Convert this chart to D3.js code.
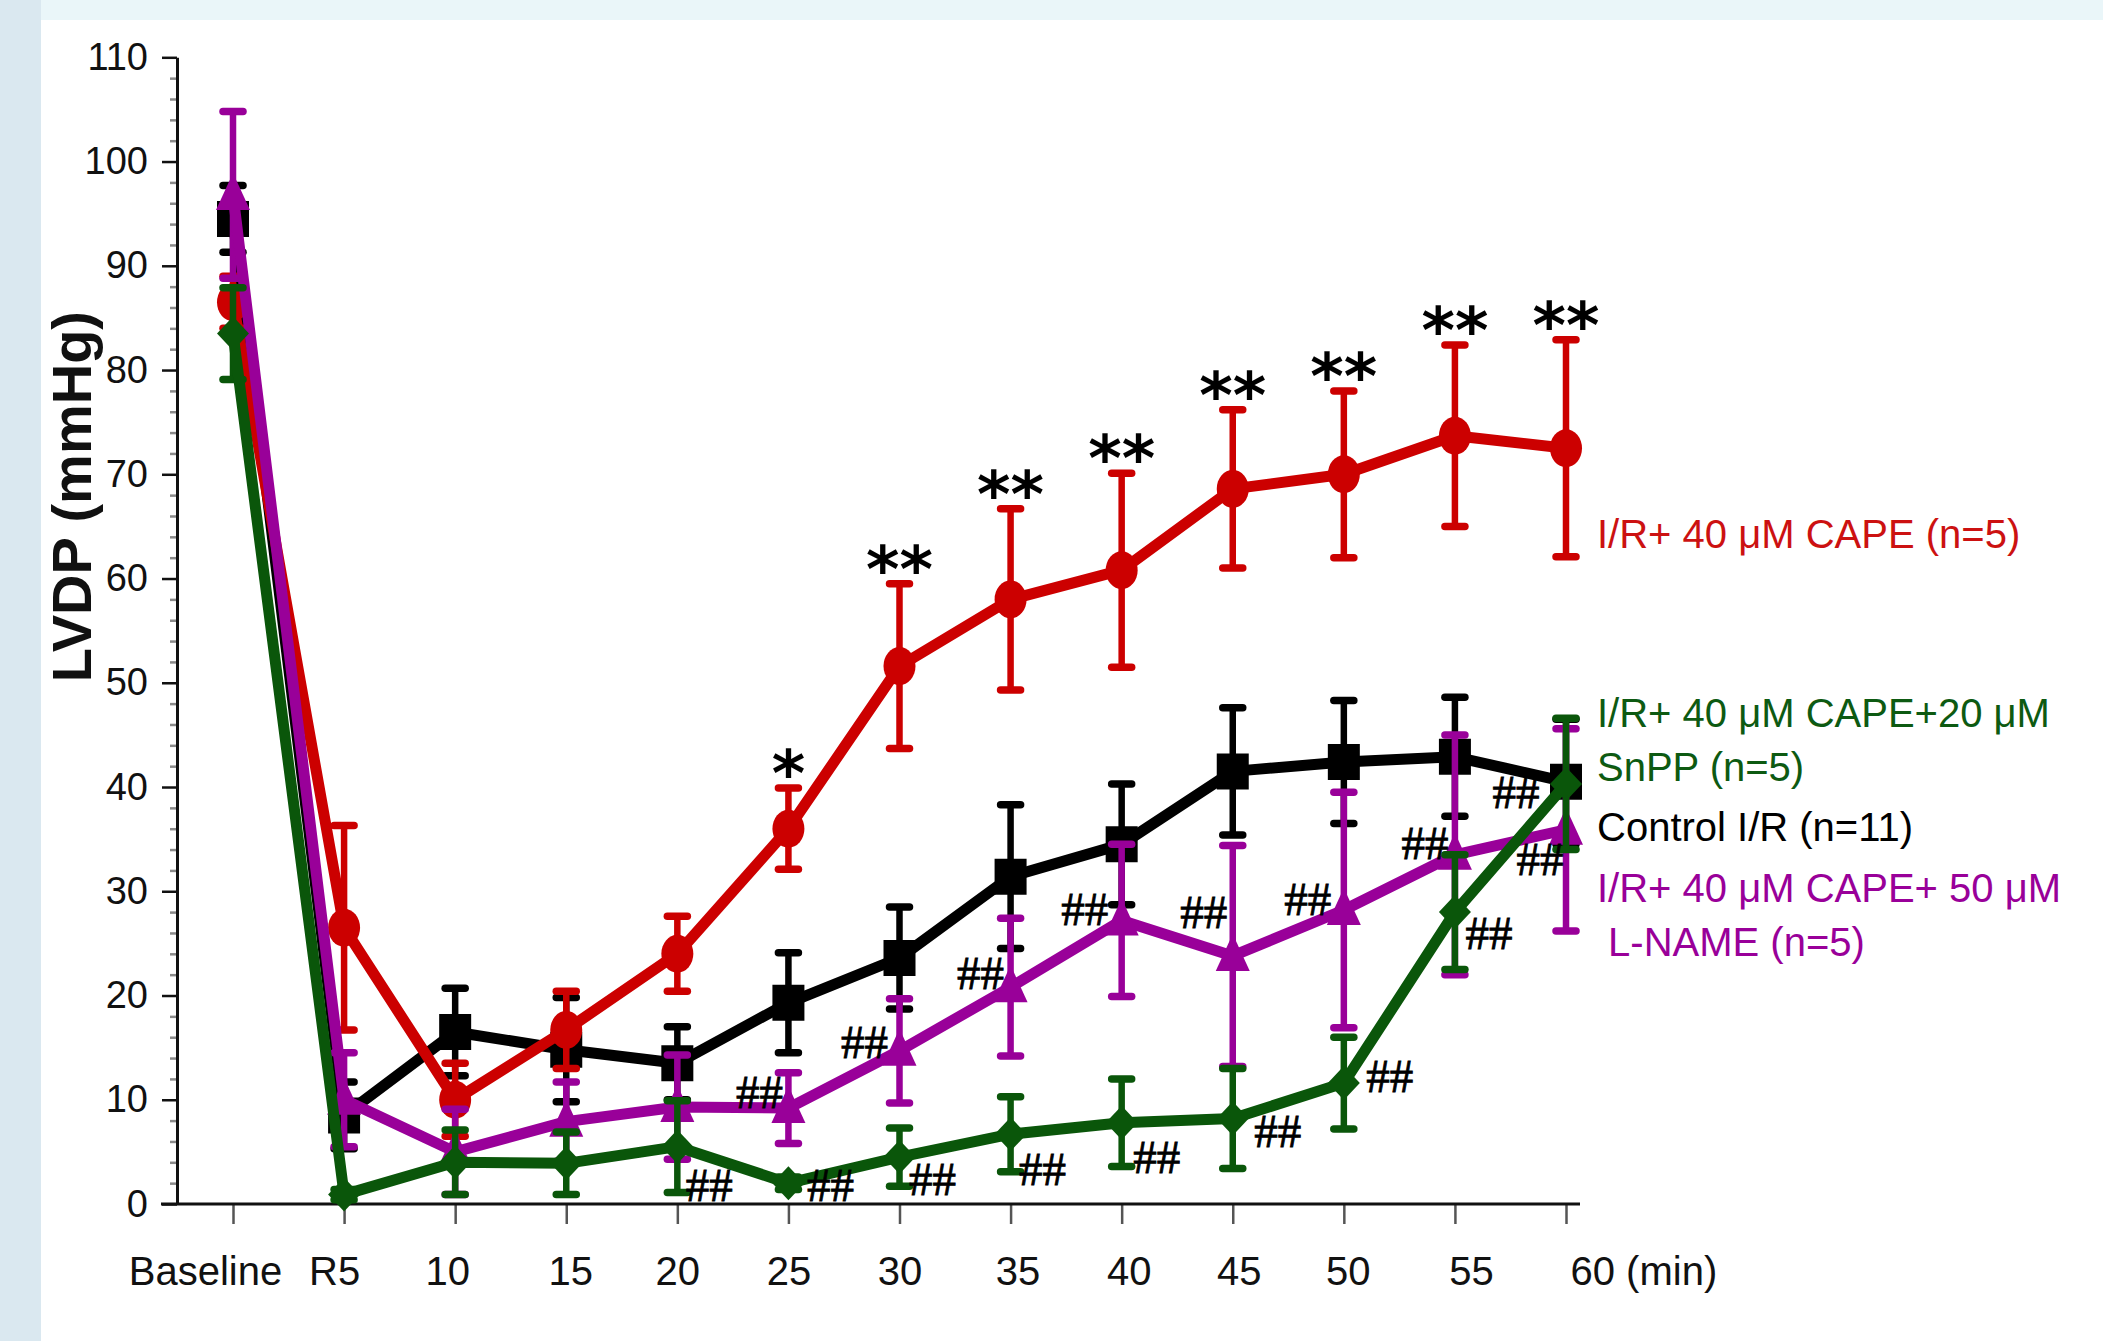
<!DOCTYPE html>
<html>
<head>
<meta charset="utf-8">
<script src="https://cdn.jsdelivr.net/npm/d3@7"></script>
<style>
  html, body { margin: 0; padding: 0; background: #fff; }
  svg { display: block; }
</style>
</head>
<body>
<svg id="chart" width="2103" height="1341"></svg>
<script>
// ---- data: LVDP (mmHg), mean and SEM per time point ----
const categories = ["Baseline", "R5", "10", "15", "20", "25", "30", "35", "40", "45", "50", "55", "60"];

const controlMean = [94.5, 8.5, 16.5, 14.8, 13.5, 19.3, 23.6, 31.4, 34.5, 41.5, 42.4, 42.9, 40.5];
const controlSE   = [3.2, 3.2, 4.2, 5.0, 3.5, 4.8, 4.9, 6.9, 5.8, 6.1, 5.9, 5.7, 6.0];

const capeMean = [86.5, 26.5, 10.0, 16.7, 24.0, 36.0, 51.6, 58.0, 60.8, 68.6, 70.0, 73.7, 72.5];
const capeSE   = [2.5, 9.8, 3.5, 3.7, 3.6, 3.9, 7.9, 8.7, 9.3, 7.6, 8.0, 8.7, 10.4];

const lnameMean = [96.8, 10.0, 5.0, 7.9, 9.3, 9.2, 14.7, 20.8, 27.2, 23.8, 28.2, 33.5, 35.9];
const lnameSE   = [8.0, 4.5, 4.1, 3.8, 5.0, 3.4, 5.0, 6.6, 7.3, 10.6, 11.3, 11.5, 9.7];

const snppMean = [83.5, 0.9, 4.0, 3.9, 5.5, 2.0, 4.5, 6.7, 7.8, 8.2, 11.6, 28.0, 40.3];
const snppSE   = [4.4, 0.5, 3.1, 3.0, 4.4, 0.6, 2.8, 3.6, 4.2, 4.8, 4.4, 5.5, 6.3];

// significance marks (CAPE vs control: *, **; vs CAPE: ##)
const capeStars = ["", "", "", "", "", "*", "**", "**", "**", "**", "**", "**", "**"];
const lnameHash = ["", "", "", "", "", "##", "##", "##", "##", "##", "##", "##", "##"];
const snppHash  = ["", "", "", "", "##", "##", "##", "##", "##", "##", "##", "##", "##"];

const yTicks = [0, 10, 20, 30, 40, 50, 60, 70, 80, 90, 100, 110];
const yMinorTicks = d3.range(0, 111, 2).filter(v => v % 10 !== 0);

const legendLines = {
  cape:    ["I/R+ 40 μM CAPE (n=5)"],
  snpp:    ["I/R+ 40 μM CAPE+20 μM", "SnPP (n=5)"],
  control: ["Control I/R (n=11)"],
  lname:   ["I/R+ 40 μM CAPE+ 50 μM", " L-NAME (n=5)"]
};

// ---- layout ----
const svg = d3.select("#chart");
const W = 2103, H = 1341;
const font = "'Liberation Sans', Arial, sans-serif";

const x = d3.scalePoint().domain(categories).range([233, 1566]);
const y = d3.scaleLinear().domain([0, 110]).range([1204, 57.3]);
const axisX = 177;

// page background
svg.append("rect").attr("width", W).attr("height", H).attr("fill", "#ffffff");
svg.append("rect").attr("width", W).attr("height", 20).attr("fill", "#eaf6f9");
svg.append("rect").attr("width", 41).attr("height", H).attr("fill", "#dae8f0");

// y axis: minor ticks first, then major ticks and labels
svg.append("g")
  .attr("transform", `translate(${axisX},0)`)
  .call(d3.axisLeft(y).tickValues(yMinorTicks).tickSize(7).tickFormat(""))
  .call(g => g.select(".domain").remove())
  .call(g => g.selectAll(".tick line").attr("stroke", "#8a8a8a").attr("stroke-width", 2.5));

const yAxis = svg.append("g")
  .attr("transform", `translate(${axisX},0)`)
  .call(d3.axisLeft(y).tickValues(yTicks).tickSize(15).tickSizeOuter(0).tickPadding(14));
yAxis.select(".domain").attr("stroke", "#111").attr("stroke-width", 3);
yAxis.selectAll(".tick line").attr("stroke", "#111").attr("stroke-width", 2.5);
yAxis.selectAll(".tick text")
  .attr("font-family", font).attr("font-size", 38).attr("fill", "#111");

// x axis
const labelNudge = { "Baseline": -28, "R5": -10, "10": -8, "15": 4, "35": 7, "40": 7, "45": 6, "50": 4, "55": 16 };
const xAxis = svg.append("g")
  .attr("transform", `translate(0,${y(0)})`)
  .call(d3.axisBottom(x).tickSize(20).tickPadding(33).tickSizeOuter(0));
xAxis.select(".domain").remove();
xAxis.selectAll(".tick line").attr("stroke", "#555").attr("stroke-width", 2.5);
xAxis.selectAll(".tick text")
  .attr("font-family", font).attr("font-size", 40).attr("fill", "#111")
  .attr("dx", d => labelNudge[d] || 0);
xAxis.selectAll(".tick text").filter(d => d === "60")
  .attr("text-anchor", "start").attr("dx", 4).text("60 (min)");

svg.append("line")
  .attr("x1", 161).attr("x2", 1580)
  .attr("y1", y(0)).attr("y2", y(0))
  .attr("stroke", "#111").attr("stroke-width", 3);

// y axis title
svg.append("text")
  .attr("transform", `translate(91,${(y(0) + y(110)) / 2 - 134}) rotate(-90)`)
  .attr("text-anchor", "middle")
  .attr("font-family", font).attr("font-weight", "bold").attr("font-size", 56)
  .attr("fill", "#111")
  .text("LVDP (mmHg)");

// ---- series ----
const series = [
  { key: "control", mean: controlMean, se: controlSE, color: "#000000", marker: "square" },
  { key: "cape",    mean: capeMean,    se: capeSE,    color: "#cc0000", marker: "circle" },
  { key: "lname",   mean: lnameMean,   se: lnameSE,   color: "#990099", marker: "triangle" },
  { key: "snpp",    mean: snppMean,    se: snppSE,    color: "#0a560a", marker: "diamond" }
];

const lineGen = d3.line()
  .x((d, i) => x(categories[i]))
  .y(d => y(d));

const markerPath = {
  square:   "M-16,-18H16V18H-16Z",
  triangle: "M0,-22L17,15H-17Z",
  diamond:  "M0,-17L16,0L0,17L-16,0Z"
};

series.forEach(s => {
  const g = svg.append("g").attr("class", "series-" + s.key);
  const pts = s.mean.map((m, i) => ({ cx: x(categories[i]), m, se: s.se[i] }));

  // error bars
  const eb = g.append("g").attr("stroke", s.color).attr("fill", "none");
  pts.forEach(p => {
    const yTop = y(p.m + p.se), yBot = y(Math.max(0, p.m - p.se));
    eb.append("line").attr("x1", p.cx).attr("x2", p.cx).attr("y1", yTop).attr("y2", yBot)
      .attr("stroke-width", 6.5);
    [yTop, yBot].forEach(yy => {
      eb.append("line").attr("x1", p.cx - 10).attr("x2", p.cx + 10).attr("y1", yy).attr("y2", yy)
        .attr("stroke-width", 7.5).attr("stroke-linecap", "round");
    });
  });

  // connecting line
  g.append("path")
    .attr("d", lineGen(s.mean))
    .attr("fill", "none").attr("stroke", s.color)
    .attr("stroke-width", 11).attr("stroke-linejoin", "round");

  // markers
  pts.forEach(p => {
    if (s.marker === "circle") {
      g.append("ellipse").attr("cx", p.cx).attr("cy", y(p.m)).attr("rx", 16).attr("ry", 19)
        .attr("fill", s.color);
    } else {
      g.append("path").attr("d", markerPath[s.marker])
        .attr("transform", `translate(${p.cx},${y(p.m)})`)
        .attr("fill", s.color);
    }
  });
});

// ---- significance annotations ----
capeStars.forEach((t, i) => {
  if (!t) return;
  svg.append("text")
    .attr("x", x(categories[i]))
    .attr("y", y(capeMean[i] + capeSE[i]) + 8)
    .attr("text-anchor", "middle")
    .attr("font-family", "'DejaVu Sans', sans-serif")
    .attr("font-weight", "bold").attr("font-size", 64)
    .attr("fill", "#000")
    .text(t);
});

// offsets of the ## marks from their points (px)
const lnameHashOffset = [null, null, null, null, null,
  [-29, -15], [-35, -8], [-30, -13], [-37, -10], [-29, -43], [-36, -10], [-30, -11], [-26, 30]];
const snppHashOffset = [null, null, null, null,
  [32, 39], [42, 3], [33, 23], [32, 36], [35, 35], [45, 13], [46, -6], [34, 22], [-50, 9]];

function drawHash(labels, means, offsets) {
  labels.forEach((t, i) => {
    if (!t) return;
    const [dx, dy] = offsets[i];
    svg.append("text")
      .attr("x", x(categories[i]) + dx)
      .attr("y", y(means[i]) + dy + 15)
      .attr("text-anchor", "middle")
      .attr("font-family", "'Liberation Serif', 'Times New Roman', serif")
      .attr("font-size", 47)
      .attr("stroke", "#000").attr("stroke-width", 0.8)
      .attr("fill", "#000")
      .text(t);
  });
}
drawHash(lnameHash, lnameMean, lnameHashOffset);
drawHash(snppHash, snppMean, snppHashOffset);

// ---- legend labels at line ends ----
const legendSpec = [
  { key: "cape",    color: "#cc1111", y0: 548 },
  { key: "snpp",    color: "#0d5a12", y0: 727 },
  { key: "control", color: "#000000", y0: 841 },
  { key: "lname",   color: "#990099", y0: 902 }
];
legendSpec.forEach(l => {
  legendLines[l.key].forEach((line, j) => {
    svg.append("text")
      .attr("x", 1597).attr("y", l.y0 + j * 54)
      .attr("font-family", font).attr("font-size", 40)
      .attr("fill", l.color)
      .attr("xml:space", "preserve")
      .style("white-space", "pre")
      .text(line);
  });
});
</script>
</body>
</html>
